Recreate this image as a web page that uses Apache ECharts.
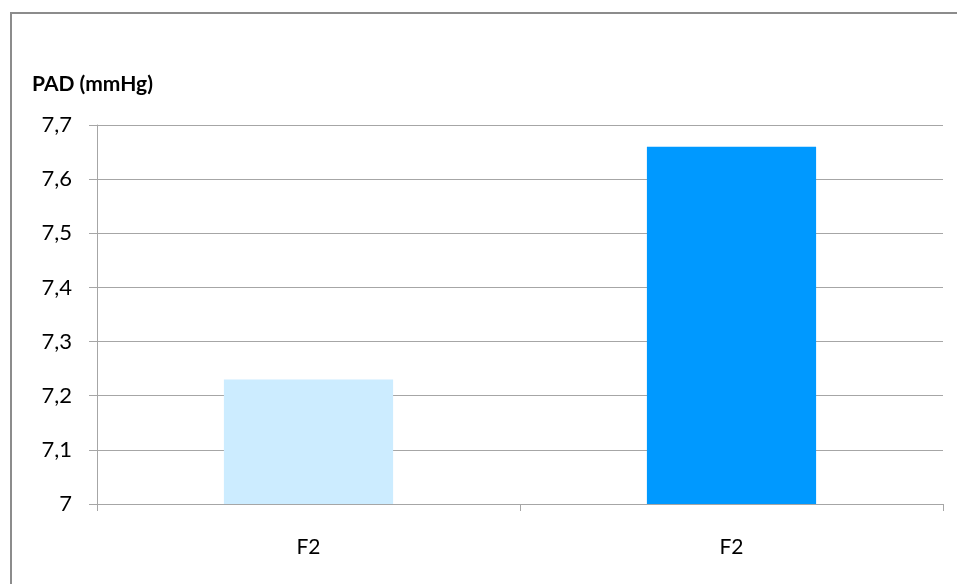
<!DOCTYPE html>
<html><head><meta charset="utf-8">
<script src="https://cdn.jsdelivr.net/npm/echarts@6/dist/echarts.min.js"></script>
<style>html,body{margin:0;padding:0;background:#fff}#c{width:957px;height:584px}</style>
</head><body><div id="c"></div>
<script>
const categories = ['F2', 'F2'];
const values = [7.23, 7.66];
const barColors = ['#CCECFF', '#0099FF'];
const yTitle = 'PAD (mmHg)';

const chart = echarts.init(document.getElementById('c'), null, {renderer: 'canvas'});
const font = 'Lato, "Open Sans", sans-serif';
chart.setOption({
  animation: false,
  backgroundColor: '#fff',
  title: {text: yTitle, left: 27, top: 69, textStyle: {fontFamily: font, fontSize: 21, fontWeight: 'bold', color: '#000'}},
  graphic: [{type: 'rect', shape: {x: 11, y: 13, width: 1100, height: 1000}, style: {fill: 'none', stroke: '#8c8c8c', lineWidth: 2}, silent: true}],
  grid: {left: 97, right: 14, top: 125, bottom: 80},
  xAxis: {
    type: 'category', data: categories,
    axisLine: {lineStyle: {color: '#a6a6a6', width: 1}},
    axisTick: {show: true, length: 7, lineStyle: {color: '#a6a6a6'}},
    axisLabel: {fontFamily: font, fontSize: 21, color: '#000', margin: 33}
  },
  yAxis: {
    type: 'value', min: 7, max: 7.7, interval: 0.1,
    axisLine: {show: true, lineStyle: {color: '#a6a6a6'}},
    axisTick: {show: true, length: 8, lineStyle: {color: '#a6a6a6'}},
    splitLine: {lineStyle: {color: '#a6a6a6', width: 1}},
    axisLabel: {fontFamily: font, fontSize: 22, color: '#000', margin: 25,
      formatter: v => String(Math.round(v * 10) / 10).replace('.', ',')}
  },
  series: [{
    type: 'bar', barWidth: '40%',
    data: values.map((v, i) => ({value: v, itemStyle: {color: barColors[i]}}))
  }]
});
</script></body></html>
